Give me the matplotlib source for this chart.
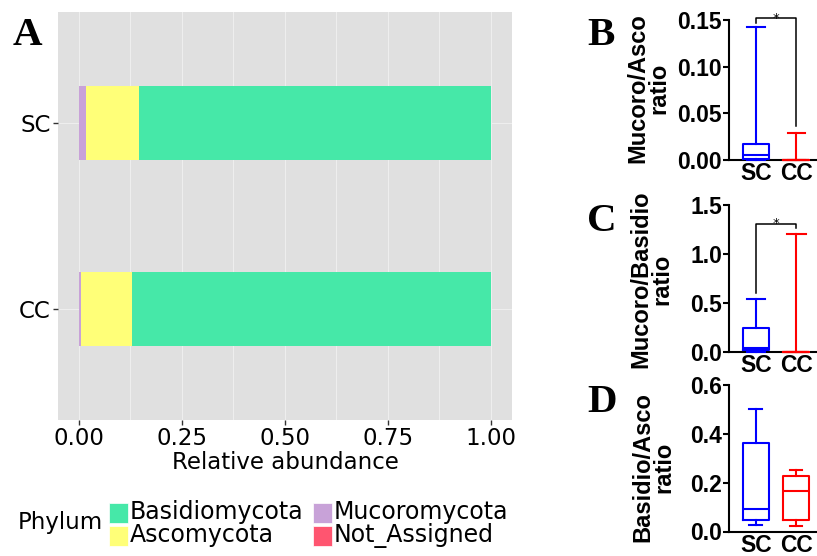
import matplotlib
matplotlib.use("Agg")
import matplotlib.pyplot as plt
from matplotlib.patches import Rectangle
import numpy as np

# ---------------- data ----------------
groups = ["CC", "SC"]                      # y positions 1, 2
phyla_legend = ["Basidiomycota", "Ascomycota", "Mucoromycota", "Not_Assigned"]
phyla_colors = ["#46E8A8", "#FFFF78", "#C8A2D8", "#FF5570"]
# stacking order from left: Not_Assigned, Mucoromycota, Ascomycota, Basidiomycota
not_assigned = [0.001, 0.001]
mucoromycota = [0.004, 0.016]
ascomycota   = [0.124, 0.130]
basidiomycota = [0.871, 0.853]
x_ticks_a = [0.00, 0.25, 0.50, 0.75, 1.00]

box_groups = ["SC", "CC"]
box_colors = ["#0000FF", "#FF0000"]
# panel B : Mucoro/Asco ratio  (whislo, q1, med, q3, whishi)
b_sc = [0.0, 0.0015, 0.0054, 0.0171, 0.1428]
b_cc = [0.0, 0.0, 0.0, 0.0, 0.0293]
b_ticks = [0.00, 0.05, 0.10, 0.15]
# panel C : Mucoro/Basidio ratio
c_sc = [0.0, 0.015, 0.04, 0.239, 0.539]
c_cc = [0.0, 0.0, 0.0, 0.0, 1.203]
c_ticks = [0.0, 0.5, 1.0, 1.5]
# panel D : Basidio/Asco ratio
d_sc = [0.027, 0.049, 0.093, 0.364, 0.501]
d_cc = [0.021, 0.048, 0.167, 0.227, 0.251]
d_ticks = [0.0, 0.2, 0.4, 0.6]

W, H = 817, 556
fig = plt.figure(figsize=(W / 100, H / 100), dpi=100)

def fx(px):
    return px / W

def fy(py):
    return 1 - py / H

# ---------------- panel A ----------------
axA = fig.add_axes([fx(58), fy(420), fx(512) - fx(58), fy(12) - fy(420)])
axA.set_facecolor("#E0E0E0")
ypos = np.arange(1, len(groups) + 1)
stack = [not_assigned, mucoromycota, ascomycota, basidiomycota]
stack_colors = [phyla_colors[3], phyla_colors[2], phyla_colors[1], phyla_colors[0]]
left = np.zeros(len(groups))
for vals, col in zip(stack, stack_colors):
    axA.barh(ypos, vals, left=left, height=0.4, color=col, zorder=3, linewidth=0)
    left = left + np.array(vals)
axA.set_xlim(-0.05, 1.052)
axA.set_ylim(0.4, 2.6)
axA.set_xticks(x_ticks_a)
axA.set_xticklabels([f"{v:.2f}" for v in x_ticks_a])
axA.set_xticks([0.125, 0.375, 0.625, 0.875], minor=True)
axA.set_yticks(ypos)
axA.set_yticklabels(groups)
axA.grid(True, which="both", color="#EEEEEE", linewidth=0.8, zorder=0)
axA.set_axisbelow(True)
for s in axA.spines.values():
    s.set_visible(False)
axA.tick_params(axis="both", which="major", length=3.6, width=1.0, color="#333333",
                labelsize=16.5, labelcolor="black", pad=1.5)
axA.tick_params(axis="x", which="minor", length=0)
axA.set_xlabel("Relative abundance", fontsize=16.5, labelpad=1, color="black")

fig.text(fx(13), fy(45), "A", fontsize=29.5, fontweight="bold",
         family="Liberation Serif", ha="left", va="baseline")

# legend (manual)
fig.text(fx(18), fy(523), "Phylum", fontsize=16.5, ha="left", va="center")
key_w, key_h = 19, 20
col_x = [109, 313]
row_y = [503, 526]
for i, (lab, col) in enumerate(zip(phyla_legend, phyla_colors)):
    cx = col_x[i // 2]
    ry = row_y[i % 2]
    fig.patches.append(Rectangle((fx(cx), fy(ry + key_h)), fx(key_w), fy(0) - fy(key_h),
                                 transform=fig.transFigure, facecolor=col,
                                 edgecolor="white", linewidth=0.5))
    fig.text(fx(cx + key_w + 2), fy(ry + key_h / 2 - 1), lab, fontsize=17,
             ha="left", va="center")

# ---------------- panels B, C, D ----------------
def box_panel(top_px, bot_px, sc, cc, ticks, ylabel, letter, letter_base,
              ylab_x, ylab_y, capw, bracket=None):
    ax = fig.add_axes([fx(729), fy(bot_px), 1 - fx(729), fy(top_px) - fy(bot_px)])
    stats = []
    for name, v in zip(box_groups, [sc, cc]):
        stats.append(dict(label=name, whislo=v[0], q1=v[1], med=v[2], q3=v[3], whishi=v[4]))
    for i, (st, col) in enumerate(zip(stats, box_colors)):
        art = ax.bxp([st], positions=[i + 1], widths=0.65, capwidths=capw[i],
                     showfliers=False, patch_artist=False,
                     boxprops=dict(color=col, linewidth=1.5),
                     whiskerprops=dict(color=col, linewidth=1.5),
                     capprops=dict(color=col, linewidth=1.5),
                     medianprops=dict(color=col, linewidth=1.5),
                     manage_ticks=False)
        for k in art:
            for a in art[k]:
                a.set_clip_on(False)
                a.set_zorder(4)
    ax.set_xlim(0.34, 2.51)
    ax.set_ylim(ticks[0], ticks[-1])
    ax.set_xticks([1, 2])
    ax.set_xticklabels(box_groups)
    ax.set_yticks(ticks)
    ax.set_yticklabels([("%.2f" if ticks[1] < 0.1 else "%.1f") % t for t in ticks])
    for s in ["top", "right"]:
        ax.spines[s].set_visible(False)
    for s in ["left", "bottom"]:
        ax.spines[s].set_linewidth(1.5)
        ax.spines[s].set_zorder(3)
    ax.patch.set_alpha(0)
    ax.tick_params(axis="y", length=4.5, width=1.5, pad=0.5, labelsize=16.5)
    ax.tick_params(axis="x", length=0, pad=1.5, labelsize=16.5)
    for lab in ax.get_xticklabels() + ax.get_yticklabels():
        lab.set_fontweight("bold")
        lab.set_family("Liberation Sans")
    fig.text(fx(ylab_x), fy(ylab_y), ylabel, rotation=90,
             fontsize=17, fontweight="bold", family="Liberation Sans",
             ha="center", va="center", multialignment="center", linespacing=0.9)
    fig.text(fx(587), fy(letter_base), letter, fontsize=29.5, fontweight="bold",
             family="Liberation Serif", ha="left", va="baseline")
    if bracket is not None:
        top, l_bot, r_bot = bracket
        ax.plot([1, 1, 2, 2], [l_bot, top, top, r_bot], color="black", lw=1.1,
                clip_on=False, zorder=5)
        ax.text(1.5, top, "*", ha="center", va="center", fontsize=9.5,
                clip_on=False, transform=ax.transData)
    return ax

box_panel(20, 160, b_sc, b_cc, b_ticks, "Mucoro/Asco\nratio", "B", 45, 648, 88.5,
          [0.45, 0.43], bracket=(0.1518, 0.1465, 0.0364))
box_panel(205, 351.7, c_sc, c_cc, c_ticks, "Mucoro/Basidio\nratio", "C", 231, 651, 279.5,
          [0.45, 0.47], bracket=(1.306, 0.603, 1.262))
box_panel(385, 531.5, d_sc, d_cc, d_ticks, "Basidio/Asco\nratio", "D", 411.7, 653, 467,
          [0.32, 0.30])

fig.savefig("out.png", dpi=100)
